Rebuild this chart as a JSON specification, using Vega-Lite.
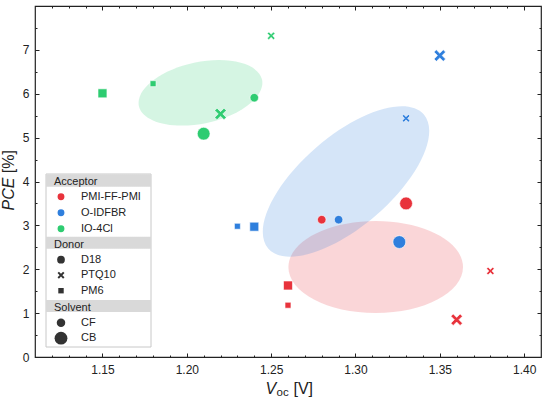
{
  "$schema": "https://vega.github.io/schema/vega-lite/v6.json",
  "width": 506,
  "height": 351,
  "autosize": "none",
  "padding": {"left": 35, "top": 6, "right": 2, "bottom": 40},
  "background": "white",
  "config": {
    "view": {"stroke": "#222", "strokeWidth": 1.2},
    "font": "Liberation Sans",
    "axis": {"domain": false, "grid": false, "labelFont": "Liberation Sans", "labelFontSize": 12, "labelColor": "#222", "tickColor": "#222", "tickWidth": 1, "titleFont": "Liberation Sans", "titleColor": "#222", "titleFontWeight": "normal", "labelOverlap": false, "labelFlush": false, "labelBound": false},
    "legend": {"labelFont": "Liberation Sans", "labelFontSize": 11, "labelColor": "#222", "titleFont": "Liberation Sans", "titleFontSize": 11, "titleFontWeight": "normal", "titleColor": "#222"}
  },
  "datasets": {
    "pts": [
      {"acceptor": "PMI-FF-PMI", "donor": "D18", "solvent": "CF", "voc": 1.28, "pce": 3.13},
      {"acceptor": "PMI-FF-PMI", "donor": "D18", "solvent": "CB", "voc": 1.33, "pce": 3.50},
      {"acceptor": "PMI-FF-PMI", "donor": "PTQ10", "solvent": "CF", "voc": 1.38, "pce": 1.96},
      {"acceptor": "PMI-FF-PMI", "donor": "PTQ10", "solvent": "CB", "voc": 1.36, "pce": 0.85},
      {"acceptor": "PMI-FF-PMI", "donor": "PM6", "solvent": "CF", "voc": 1.26, "pce": 1.18},
      {"acceptor": "PMI-FF-PMI", "donor": "PM6", "solvent": "CB", "voc": 1.26, "pce": 1.63},
      {"acceptor": "O-IDFBR", "donor": "D18", "solvent": "CF", "voc": 1.29, "pce": 3.13},
      {"acceptor": "O-IDFBR", "donor": "D18", "solvent": "CB", "voc": 1.326, "pce": 2.62},
      {"acceptor": "O-IDFBR", "donor": "PTQ10", "solvent": "CF", "voc": 1.33, "pce": 5.44},
      {"acceptor": "O-IDFBR", "donor": "PTQ10", "solvent": "CB", "voc": 1.35, "pce": 6.87},
      {"acceptor": "O-IDFBR", "donor": "PM6", "solvent": "CF", "voc": 1.23, "pce": 2.98},
      {"acceptor": "O-IDFBR", "donor": "PM6", "solvent": "CB", "voc": 1.24, "pce": 2.97},
      {"acceptor": "IO-4Cl", "donor": "D18", "solvent": "CF", "voc": 1.24, "pce": 5.91},
      {"acceptor": "IO-4Cl", "donor": "D18", "solvent": "CB", "voc": 1.21, "pce": 5.09},
      {"acceptor": "IO-4Cl", "donor": "PTQ10", "solvent": "CF", "voc": 1.25, "pce": 7.32},
      {"acceptor": "IO-4Cl", "donor": "PTQ10", "solvent": "CB", "voc": 1.22, "pce": 5.54},
      {"acceptor": "IO-4Cl", "donor": "PM6", "solvent": "CF", "voc": 1.18, "pce": 6.23},
      {"acceptor": "IO-4Cl", "donor": "PM6", "solvent": "CB", "voc": 1.15, "pce": 6.01}
    ],
    "ell": [
      {"acceptor": "PMI-FF-PMI", "voc": 1.312, "pce": 2.05},
      {"acceptor": "O-IDFBR", "voc": 1.2944, "pce": 4.0},
      {"acceptor": "IO-4Cl", "voc": 1.2081, "pce": 6.02}
    ]
  },
  "layer": [
    {
      "data": {"name": "ell"},
      "mark": {"type": "point", "filled": true, "size": 4, "opacity": 1, "fillOpacity": 0.2, "strokeWidth": 0},
      "encoding": {
        "x": {"field": "voc", "type": "quantitative", "scale": {"domain": [1.11, 1.41], "nice": false, "zero": false},
          "axis": {"orient": "bottom", "values": [1.12,1.13,1.14,1.15,1.16,1.17,1.18,1.19,1.2,1.21,1.22,1.23,1.24,1.25,1.26,1.27,1.28,1.29,1.3,1.31,1.32,1.33,1.34,1.35,1.36,1.37,1.38,1.39,1.4],
            "labelExpr": "abs(datum.value*20-round(datum.value*20))<0.001 ? format(datum.value,'.2f') : ''",
            "tickSize": {"condition": {"test": "abs(datum.value*20-round(datum.value*20))<0.001", "value": -4}, "value": -2},
            "labelPadding": 11, "title": "V", "titleFontSize": 16, "titleFontStyle": "italic", "titleX": 230, "titleY": 36, "titleAlign": "left", "titleBaseline": "alphabetic", "titleAngle": 0}},
        "y": {"field": "pce", "type": "quantitative", "scale": {"domain": [0, 8], "nice": false, "zero": false},
          "axis": {"orient": "left", "values": [0,0.5,1,1.5,2,2.5,3,3.5,4,4.5,5,5.5,6,6.5,7,7.5],
            "labelExpr": "datum.value%1===0 ? format(datum.value,'d') : ''",
            "tickSize": {"condition": {"test": "datum.value%1===0", "value": -4}, "value": -2},
            "labelPadding": 10, "title": "PCE", "titleFontSize": 16, "titleFontStyle": "italic", "titleX": -22, "titleY": 204, "titleAlign": "left", "titleBaseline": "alphabetic", "titleAngle": -90}},
        "fill": {"field": "acceptor", "type": "nominal", "scale": {"domain": ["PMI-FF-PMI", "O-IDFBR", "IO-4Cl"], "range": ["#e8333c", "#2f7fdd", "#2ecc71"]}, "legend": null},
        "shape": {"field": "acceptor", "type": "nominal", "scale": {"domain": ["PMI-FF-PMI", "O-IDFBR", "IO-4Cl"], "range": [
          "M-87.3,0A87.3,46,0,0,1,87.3,0A87.3,46,0,0,1,-87.3,0Z",
          "M-77.86,66.97A102.7,45.4,-40.7,0,1,77.86,-66.97A102.7,45.4,-40.7,0,1,-77.86,66.97Z",
          "M-61.62,13.1A63,31,-12,0,1,61.62,-13.1A63,31,-12,0,1,-61.62,13.1Z"]}, "legend": null}
      }
    },
    {
      "data": {"name": "pts"},
      "mark": {"type": "point", "filled": true, "opacity": 1, "stroke": "white", "strokeWidth": 0.6},
      "encoding": {
        "x": {"field": "voc", "type": "quantitative",
          "axis": {"orient": "top", "values": [1.12,1.13,1.14,1.15,1.16,1.17,1.18,1.19,1.2,1.21,1.22,1.23,1.24,1.25,1.26,1.27,1.28,1.29,1.3,1.31,1.32,1.33,1.34,1.35,1.36,1.37,1.38,1.39,1.4],
            "labels": false, "title": null,
            "tickSize": {"condition": {"test": "abs(datum.value*20-round(datum.value*20))<0.001", "value": -4}, "value": -2}}},
        "y": {"field": "pce", "type": "quantitative",
          "axis": {"orient": "right", "values": [0.5,1,1.5,2,2.5,3,3.5,4,4.5,5,5.5,6,6.5,7,7.5],
            "labels": false, "title": null,
            "tickSize": {"condition": {"test": "datum.value%1===0", "value": -4}, "value": -2}}},
        "color": {"field": "acceptor", "type": "nominal", "scale": {"domain": ["PMI-FF-PMI", "O-IDFBR", "IO-4Cl"], "range": ["#e8333c", "#2f7fdd", "#2ecc71"]},
          "legend": {"title": "Acceptor", "orient": "none", "legendX": 11, "legendY": 162, "symbolType": "circle", "symbolSize": 70, "symbolOffset": 1.5, "labelOffset": 14.5, "padding": 8, "titlePadding": 4.2, "rowPadding": 1, "zindex": 3}},
        "shape": {"field": "donor", "type": "nominal", "scale": {"domain": ["D18", "PTQ10", "PM6"], "range": ["circle",
          "M-0.9,-0.54L-0.54,-0.9L0,-0.36L0.54,-0.9L0.9,-0.54L0.36,0L0.9,0.54L0.54,0.9L0,0.36L-0.54,0.9L-0.9,0.54L-0.36,0Z",
          "M-0.7,-0.7H0.7V0.7H-0.7Z"]},
          "legend": {"title": "Donor", "orient": "none", "legendX": 11, "legendY": 225, "symbolSize": 60, "symbolFillColor": "#333", "symbolStrokeWidth": 0, "symbolOffset": 1.5, "labelOffset": 14.5, "padding": 8, "titlePadding": 4.2, "rowPadding": 3.5, "zindex": 3}},
        "size": {"field": "solvent", "type": "ordinal", "scale": {"domain": ["CF", "CB"], "range": [72, 164]},
          "legend": {"title": "Solvent", "orient": "none", "legendX": 11, "legendY": 288, "symbolType": "circle", "symbolFillColor": "#333", "symbolStrokeWidth": 0, "symbolOffset": 0.5, "labelOffset": 13.5, "padding": 8, "titlePadding": 4.2, "rowPadding": 3.5, "zindex": 3}}
      }
    },
    {
      "data": {"name": "ell"},
      "mark": {"type": "point", "opacity": 0},
      "encoding": {
        "x": {"field": "voc", "type": "quantitative", "axis": {"orient": "bottom", "ticks": false, "labels": false, "title": "oc", "titleFontSize": 11.5, "titleX": 241, "titleY": 38.5, "titleAlign": "left", "titleBaseline": "alphabetic", "titleAngle": 0}},
        "y": {"field": "pce", "type": "quantitative", "axis": {"orient": "left", "ticks": false, "labels": false, "title": "[%]", "titleFontSize": 16, "titleX": -22, "titleY": 166.7, "titleAlign": "left", "titleBaseline": "alphabetic", "titleAngle": -90}},
        "fill": {"field": "pce", "type": "quantitative", "scale": {"domain": [0, 1], "range": ["#d9d9d9", "#d9d9d9"]},
          "legend": {"orient": "none", "legendX": 11, "legendY": 168.3, "direction": "horizontal", "gradientLength": 105, "gradientThickness": 12.5, "gradientStrokeWidth": 0, "labelOpacity": 0, "labelExpr": "''", "title": null, "padding": 0, "zindex": 2}},
        "stroke": {"field": "pce", "type": "quantitative", "scale": {"domain": [0, 2], "range": ["#d9d9d9", "#d9d9d9"]},
          "legend": {"orient": "none", "legendX": 11, "legendY": 230.7, "direction": "horizontal", "gradientLength": 105, "gradientThickness": 12, "gradientStrokeWidth": 0, "labelOpacity": 0, "labelExpr": "''", "title": null, "padding": 0, "zindex": 2}}
      }
    },
    {
      "data": {"name": "ell"},
      "mark": {"type": "point", "opacity": 0},
      "encoding": {
        "x": {"field": "voc", "type": "quantitative", "axis": {"orient": "bottom", "ticks": false, "labels": false, "title": "[V]", "titleFontSize": 16, "titleX": 258, "titleY": 36, "titleAlign": "left", "titleBaseline": "alphabetic", "titleAngle": 0}},
        "y": {"field": "pce", "type": "quantitative", "axis": null},
        "fill": {"field": "pce", "type": "quantitative", "scale": {"domain": [0, 3], "range": ["#d9d9d9", "#d9d9d9"]},
          "legend": {"orient": "none", "legendX": 11, "legendY": 294, "direction": "horizontal", "gradientLength": 105, "gradientThickness": 12, "gradientStrokeWidth": 0, "labelOpacity": 0, "labelExpr": "''", "title": null, "padding": 0, "zindex": 2}},
        "stroke": {"field": "pce", "type": "quantitative", "scale": {"domain": [0, 4], "range": ["#ffffff", "#ffffff"]},
          "legend": {"orient": "none", "legendX": 11, "legendY": 168, "direction": "horizontal", "gradientLength": 105, "gradientThickness": 173, "gradientStrokeColor": "#c8c8c8", "gradientStrokeWidth": 1, "labelOpacity": 0, "labelExpr": "''", "title": null, "padding": 0, "zindex": 1}}
      }
    }
  ],
  "resolve": {
    "axis": {"x": "independent", "y": "independent"},
    "scale": {"shape": "independent", "fill": "independent", "stroke": "independent"},
    "legend": {"shape": "independent", "fill": "independent", "stroke": "independent"}
  }
}
